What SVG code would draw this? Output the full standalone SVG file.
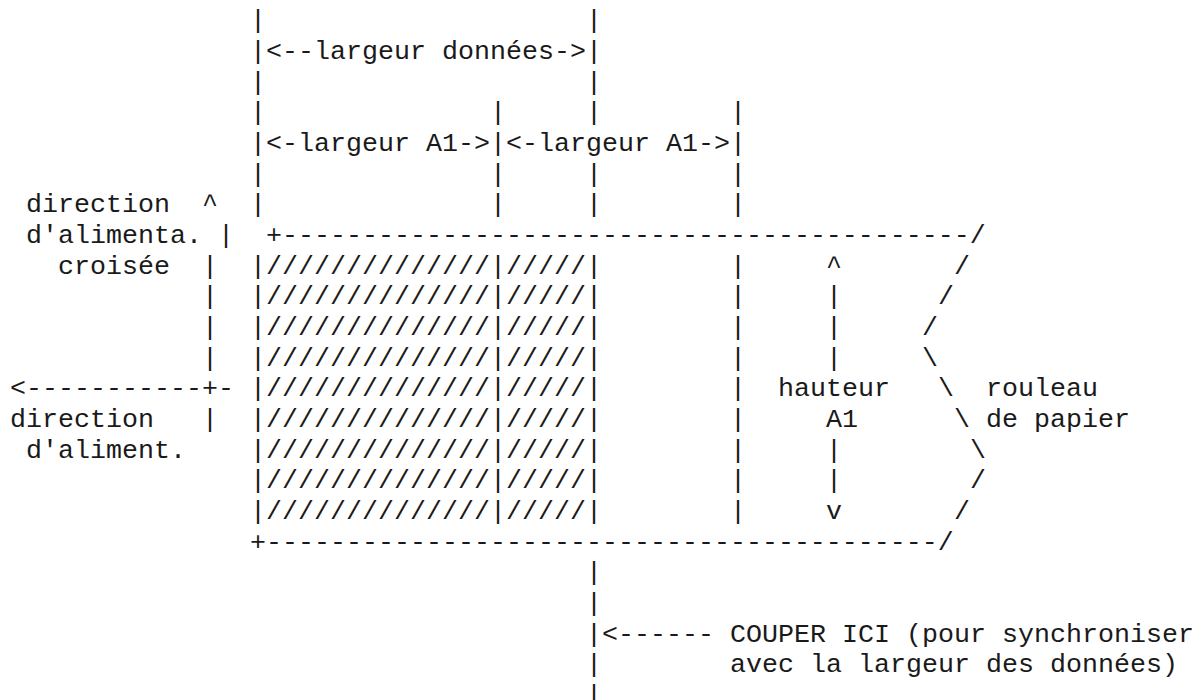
<svg xmlns="http://www.w3.org/2000/svg" width="1201" height="700" viewBox="0 0 1201 700">
<style>
text { font-family: "Liberation Mono", "DejaVu Sans Mono", monospace; font-size: 26.67px; fill: #1a1a1a; white-space: pre; }
</style>
<rect width="1201" height="700" fill="#ffffff"/>
<g id="connectors">
  <!-- largeur données -->
  <text x="250" y="28.4">|</text><text x="586" y="28.4">|</text>
  <text x="250" y="59.07">|&lt;--</text><text x="554" y="59.07">-&gt;|</text>
  <text x="250" y="89.73">|</text><text x="586" y="89.73">|</text>
  <!-- largeur A1 -->
  <text x="250" y="120.4">|</text><text x="490" y="120.4">|</text><text x="586" y="120.4">|</text><text x="730" y="120.4">|</text>
  <text x="250" y="151.07">|&lt;-</text><text x="458" y="151.07">-&gt;|&lt;-</text><text x="698" y="151.07">-&gt;|</text>
  <text x="250" y="181.73">|</text><text x="490" y="181.73">|</text><text x="586" y="181.73">|</text><text x="730" y="181.73">|</text>
  <text x="250" y="212.4">|</text><text x="490" y="212.4">|</text><text x="586" y="212.4">|</text><text x="730" y="212.4">|</text>
  <!-- direction d'alimentation croisée -->
  <text x="202" y="212.4">^</text>
  <text x="218" y="243.07">|</text>
  <text x="202" y="273.73">|</text>
  <text x="202" y="304.4">|</text>
  <text x="202" y="335.07">|</text>
  <text x="202" y="365.73">|</text>
  <text x="10" y="396.4">&lt;-----------+-</text>
  <text x="202" y="427.07">|</text>
  <!-- hauteur A1 -->
  <text x="826" y="273.73">^</text>
  <text x="826" y="304.4">|</text>
  <text x="826" y="335.07">|</text>
  <text x="826" y="365.73">|</text>
  <text x="826" y="457.73">|</text>
  <text x="826" y="488.4">|</text>
  <text x="826" y="519.07">v</text>
  <!-- couper ici -->
  <text x="586" y="580.4">|</text>
  <text x="586" y="611.07">|</text>
  <text x="586" y="641.73">|&lt;------</text>
  <text x="586" y="672.4">|</text>
  <text x="586" y="703.07">|</text>
</g>
<g id="sheet">
  <text x="266" y="243.07">+-------------------------------------------/</text>
  <text x="250" y="273.73">|//////////////|/////|</text><text x="730" y="273.73">|</text>
  <text x="250" y="304.4">|//////////////|/////|</text><text x="730" y="304.4">|</text>
  <text x="250" y="335.07">|//////////////|/////|</text><text x="730" y="335.07">|</text>
  <text x="250" y="365.73">|//////////////|/////|</text><text x="730" y="365.73">|</text>
  <text x="250" y="396.4">|//////////////|/////|</text><text x="730" y="396.4">|</text>
  <text x="250" y="427.07">|//////////////|/////|</text><text x="730" y="427.07">|</text>
  <text x="250" y="457.73">|//////////////|/////|</text><text x="730" y="457.73">|</text>
  <text x="250" y="488.4">|//////////////|/////|</text><text x="730" y="488.4">|</text>
  <text x="250" y="519.07">|//////////////|/////|</text><text x="730" y="519.07">|</text>
  <text x="250" y="549.73">+------------------------------------------/</text>
</g>
<g id="roll">
  <text x="954" y="273.73">/</text>
  <text x="938" y="304.4">/</text>
  <text x="922" y="335.07">/</text>
  <text x="922" y="365.73">\</text>
  <text x="938" y="396.4">\</text>
  <text x="954" y="427.07">\</text>
  <text x="970" y="457.73">\</text>
  <text x="970" y="488.4">/</text>
  <text x="954" y="519.07">/</text>
</g>
<g id="label-largeur-donnees"><text x="314" y="59.07">largeur données</text></g>
<g id="label-largeur-a1-1"><text x="298" y="151.07">largeur A1</text></g>
<g id="label-largeur-a1-2"><text x="538" y="151.07">largeur A1</text></g>
<g id="label-alimentation-croisee">
  <text x="26" y="212.4">direction</text>
  <text x="26" y="243.07">d'alimenta.</text>
  <text x="58" y="273.73">croisée</text>
</g>
<g id="label-alimentation">
  <text x="10" y="427.07">direction</text>
  <text x="26" y="457.73">d'aliment.</text>
</g>
<g id="label-hauteur-a1">
  <text x="778" y="396.4">hauteur</text>
  <text x="826" y="427.07">A1</text>
</g>
<g id="label-rouleau">
  <text x="986" y="396.4">rouleau</text>
  <text x="986" y="427.07">de papier</text>
</g>
<g id="label-couper">
  <text x="730" y="641.73">COUPER ICI (pour synchroniser</text>
  <text x="730" y="672.4">avec la largeur des données)</text>
</g>
</svg>
